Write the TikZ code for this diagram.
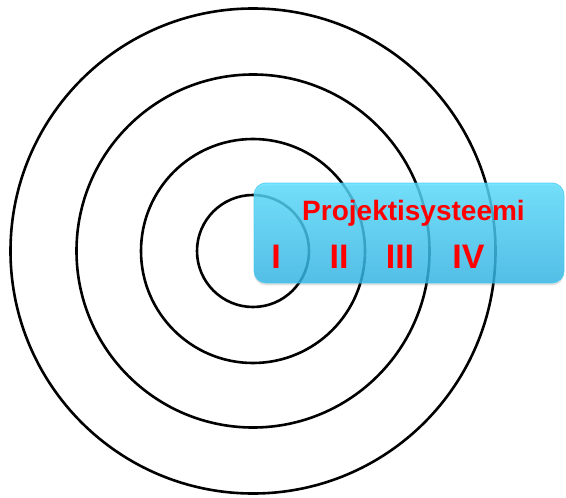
\documentclass[tikz,border=0pt]{standalone}
\usepackage{fontspec}
\setmainfont{Liberation Sans}
\usepackage{tikz}
\usetikzlibrary{shadows}
\definecolor{boxtop}{HTML}{58DEFF}
\definecolor{boxbottom}{HTML}{30B6E8}
\definecolor{boxedge}{HTML}{45C8F2}
\definecolor{projred}{HTML}{FF0000}

\begin{document}
\begin{tikzpicture}[x=0.5pt, y=-0.5pt,
  ring/.style={circle, draw=black, line width=1.3pt, inner sep=0pt},
  panelbox/.style={rounded corners=6pt, top color=boxtop, bottom color=boxbottom,
                   draw=boxedge, line width=0.4pt, fill opacity=0.8, draw opacity=0.8,
                   minimum width=155pt, minimum height=50pt, inner sep=0pt,
                   drop shadow={shadow xshift=0pt, shadow yshift=-1.2pt, opacity=0.2, fill=black!60}},
  title/.style={font=\fontsize{14}{16}\selectfont\bfseries, text=projred, anchor=base, inner sep=0pt},
  numeral/.style={font=\fontsize{17}{20}\selectfont\bfseries, text=projred, anchor=base, inner sep=0pt},
]
  \useasboundingbox (0,0) rectangle (566,497);

  % Rings -------------------------------------------------------------------
  \coordinate (centre) at (253,251);
  \node[ring, minimum size=242.5pt] (ringfour) at (centre) {};
  \node[ring, minimum size=176.5pt] (ringthree) at (centre) {};
  \node[ring, minimum size=112pt] (ringtwo) at (centre) {};
  \node[ring, minimum size=56pt] (ringone) at (centre) {};

  % Projektisysteemi --------------------------------------------------------
  \node[panelbox] (projbox) at (409,233) {};
  \node[title] (projtitle) at (413.5,220) {Projektisysteemi};
  \node[numeral] (levelone) at (276,268) {I};
  \node[numeral] (leveltwo) at (339,268) {II};
  \node[numeral] (levelthree) at (400,268) {III};
  \node[numeral] (levelfour) at (468.5,268) {IV};
\end{tikzpicture}
\end{document}
